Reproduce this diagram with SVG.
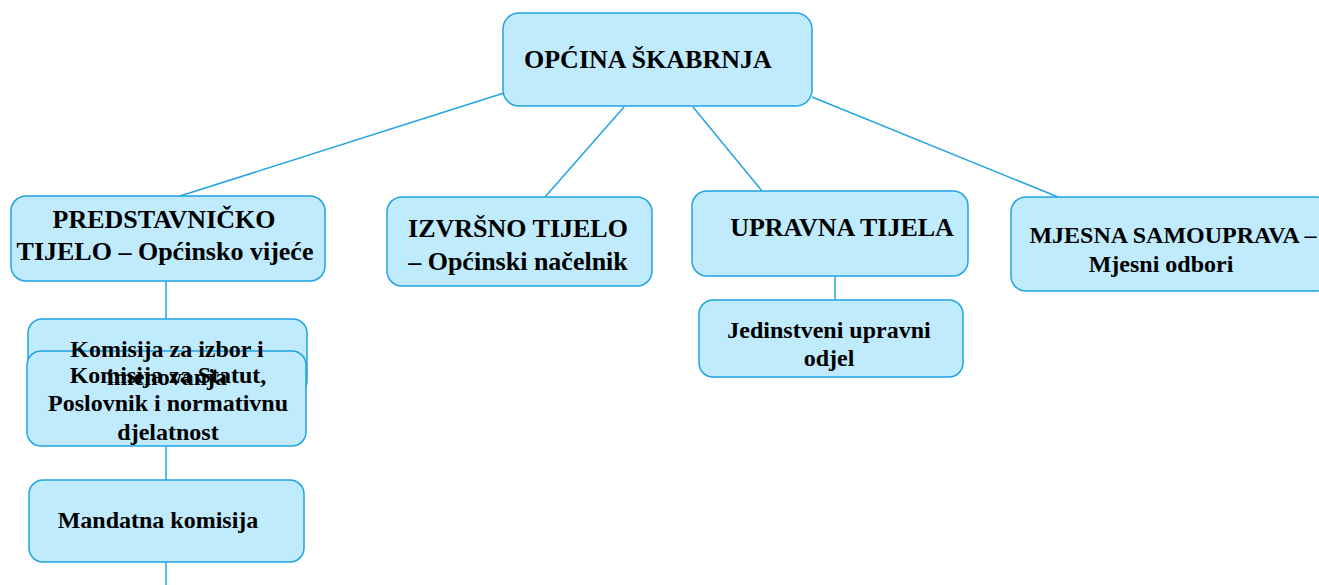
<svg xmlns="http://www.w3.org/2000/svg" width="1319" height="585" viewBox="0 0 1319 585">
<style>
.box{fill:#bfebfd;stroke:#22a4e2;stroke-width:1.5}
.ln{stroke:#22a4e2;stroke-width:1.5;fill:none}
text{font-family:"Liberation Serif","Times New Roman",serif;font-weight:bold;fill:#000}
.h{font-size:26px}
.s{font-size:24px}
</style>
<rect width="1319" height="585" fill="#fff"/>
<g id="connectors">
<line class="ln" x1="504" y1="93" x2="180" y2="196"/>
<line class="ln" x1="624" y1="107" x2="545" y2="197"/>
<line class="ln" x1="693" y1="107" x2="762" y2="191"/>
<line class="ln" x1="812" y1="97" x2="1058" y2="197"/>
<line class="ln" x1="166" y1="281" x2="166" y2="319"/>
<line class="ln" x1="166" y1="446" x2="166" y2="480"/>
<line class="ln" x1="166" y1="562" x2="166" y2="585"/>
<line class="ln" x1="835" y1="276" x2="835" y2="300"/>
</g>
<g id="n-root">
<rect class="box" x="503" y="13" width="309" height="93" rx="16"/>
<text class="h" x="524" y="68">OPĆINA ŠKABRNJA</text>
</g>
<g id="n-pred">
<rect class="box" x="11" y="196" width="314" height="85" rx="15"/>
<text class="h" x="164" y="228" text-anchor="middle">PREDSTAVNIČKO</text>
<text class="h" x="165" y="260" text-anchor="middle">TIJELO – Općinsko vijeće</text>
</g>
<g id="n-izv">
<rect class="box" x="387" y="197" width="265" height="89" rx="15"/>
<text class="h" x="518" y="237" text-anchor="middle">IZVRŠNO TIJELO</text>
<text class="h" x="518" y="270" text-anchor="middle">– Općinski načelnik</text>
</g>
<g id="n-upr">
<rect class="box" x="692" y="191" width="276" height="85" rx="15"/>
<text class="h" x="842" y="236" text-anchor="middle">UPRAVNA TIJELA</text>
</g>
<g id="n-mjesna">
<rect class="box" x="1011" y="197" width="320" height="94" rx="15"/>
<text class="s" x="1173" y="243" text-anchor="middle">MJESNA SAMOUPRAVA –</text>
<text class="s" x="1161" y="272" text-anchor="middle">Mjesni odbori</text>
</g>
<g id="n-jed">
<rect class="box" x="699" y="300" width="264" height="77" rx="14"/>
<text class="s" x="829" y="338" text-anchor="middle">Jedinstveni upravni</text>
<text class="s" x="829" y="366" text-anchor="middle">odjel</text>
</g>
<g id="n-kom-izbor">
<rect class="box" x="28" y="319" width="279" height="76" rx="14"/>
</g>
<g id="n-kom-statut">
<rect class="box" x="27" y="351" width="279" height="95" rx="14"/>
</g>
<g id="n-kom-izbor-text">
<text class="s" x="167" y="357" text-anchor="middle">Komisija za izbor i</text>
<text class="s" x="167" y="385" text-anchor="middle">imenovanja</text>
</g>
<g id="n-kom-statut-text">
<text class="s" x="168" y="383" text-anchor="middle">Komisija za Statut,</text>
<text class="s" x="168" y="411" text-anchor="middle">Poslovnik i normativnu</text>
<text class="s" x="168" y="440" text-anchor="middle">djelatnost</text>
</g>
<g id="n-mandat">
<rect class="box" x="29" y="480" width="275" height="82" rx="14"/>
<text class="s" x="158" y="528" text-anchor="middle">Mandatna komisija</text>
</g>
</svg>
